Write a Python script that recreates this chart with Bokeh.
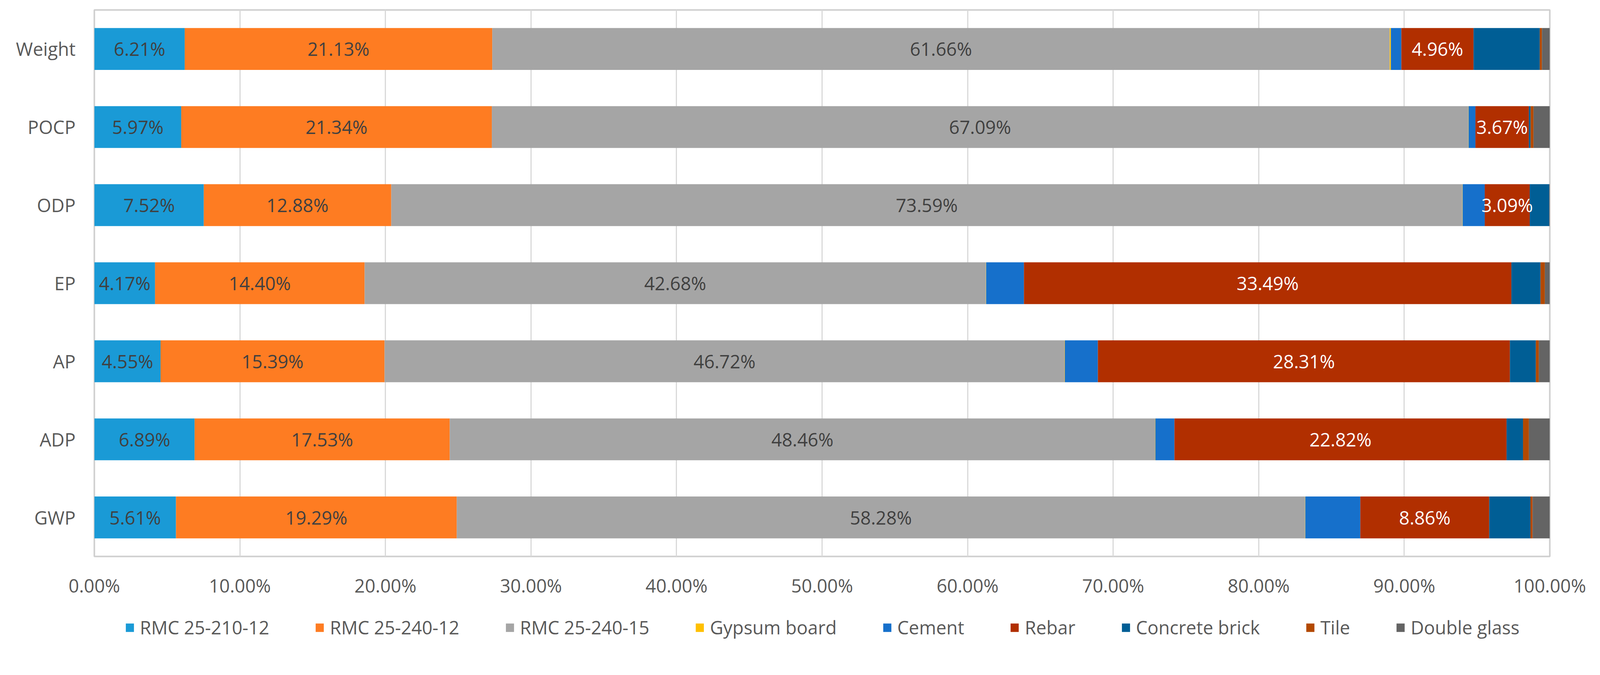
from bokeh.plotting import figure
from bokeh.layouts import column
from bokeh.models import ColumnDataSource, FactorRange, Legend, LegendItem, PrintfTickFormatter, FixedTicker
from bokeh.core.properties import value
from bokeh.embed import file_html
from bokeh.resources import INLINE

categories = ["GWP", "ADP", "AP", "EP", "ODP", "POCP", "Weight"]
series_names = ["RMC 25-210-12", "RMC 25-240-12", "RMC 25-240-15", "Gypsum board",
                "Cement", "Rebar", "Concrete brick", "Tile", "Double glass"]
colors = ["#1a9ad6", "#fe7c22", "#a5a5a5", "#ffc000", "#1670cb", "#b12f00",
          "#005e95", "#b34900", "#646464"]

rmc_210_12 = [5.61, 6.89, 4.55, 4.17, 7.52, 5.97, 6.21]
rmc_240_12 = [19.29, 17.53, 15.39, 14.40, 12.88, 21.34, 21.13]
rmc_240_15 = [58.28, 48.46, 46.72, 42.68, 73.59, 67.09, 61.66]
gypsum_board = [0.02, 0.02, 0.02, 0.02, 0.02, 0.02, 0.08]
cement = [3.78, 1.31, 2.27, 2.60, 1.52, 0.47, 0.72]
rebar = [8.86, 22.82, 28.31, 33.49, 3.09, 3.67, 4.96]
concrete_brick = [2.83, 1.13, 1.78, 2.00, 1.35, 0.12, 4.55]
tile = [0.15, 0.40, 0.20, 0.30, 0.01, 0.20, 0.15]
double_glass = [1.18, 1.44, 0.76, 0.34, 0.02, 1.12, 0.54]

x_ticks = [0, 10, 20, 30, 40, 50, 60, 70, 80, 90, 100]

series_values = [rmc_210_12, rmc_240_12, rmc_240_15, gypsum_board, cement, rebar,
                 concrete_brick, tile, double_glass]
keys = ["s%d" % i for i in range(len(series_names))]

data = {"cat": categories}
for k, v in zip(keys, series_values):
    data[k] = v
source = ColumnDataSource(data)

FONT = "Open Sans"
FS = "47px"
W = 4081
p = figure(width=W, height=1533, y_range=FactorRange(*categories), x_range=(0, 100),
           output_backend="svg", toolbar_location=None,
           min_border_left=241, min_border_right=114, min_border_top=25, min_border_bottom=105)

renderers = p.hbar_stack(keys, y="cat", height=0.536, color=colors, line_width=0, source=source)

# data labels
label_series = [0, 1, 2, 5]
label_colors = {0: "#404040", 1: "#404040", 2: "#404040", 5: "#ffffff"}
for si in label_series:
    xs, ys, ts = [], [], []
    for ci, cat in enumerate(categories):
        left = sum(series_values[j][ci] for j in range(si))
        val = series_values[si][ci]
        xs.append(left + val / 2.0)
        ys.append(cat)
        ts.append("%.2f%%" % val)
    p.text(x=xs, y=ys, text=ts, text_align="center", text_baseline="middle",
           text_font=value(FONT), text_font_size=FS, text_color=label_colors[si])

p.xaxis.ticker = FixedTicker(ticks=x_ticks)
p.xaxis.formatter = PrintfTickFormatter(format="%.2f%%")
for ax in (p.xaxis[0], p.yaxis[0]):
    ax.major_label_text_font = FONT
    ax.major_label_text_font_size = FS
    ax.major_label_text_color = "#595959"
    ax.major_tick_line_color = None
    ax.minor_tick_line_color = None
    ax.axis_line_color = None
    ax.major_tick_out = 0
    ax.major_tick_in = 0
p.xaxis.major_label_standoff = 42
p.yaxis.major_label_standoff = 48

p.xgrid.grid_line_color = "#d9d9d9"
p.xgrid.grid_line_width = 3
p.ygrid.grid_line_color = None
p.outline_line_color = "#cfcfcf"
p.outline_line_width = 4

# legend strip below the chart
lg = figure(width=W, height=109, x_range=(0, 1), y_range=(0, 1),
            output_backend="svg", toolbar_location=None,
            min_border_left=0, min_border_right=0, min_border_top=0, min_border_bottom=0)
lg.axis.visible = False
lg.grid.grid_line_color = None
lg.outline_line_color = None
dummy = [lg.hbar(y=[-10], left=[-10], right=[-9], height=0.5, color=c, line_width=0)
         for c in colors]
items = [LegendItem(label=n, renderers=[r]) for n, r in zip(series_names, dummy)]
legend = Legend(items=items, orientation="horizontal", location=(78, 4),
                border_line_color=None, background_fill_alpha=0,
                glyph_width=26, glyph_height=27, label_standoff=13, spacing=116,
                label_text_font=FONT, label_text_font_size=FS,
                label_text_color="#595959", margin=0, padding=0)
lg.add_layout(legend, "center")

open("out.html", "w").write(file_html(column(p, lg, spacing=0), INLINE))
